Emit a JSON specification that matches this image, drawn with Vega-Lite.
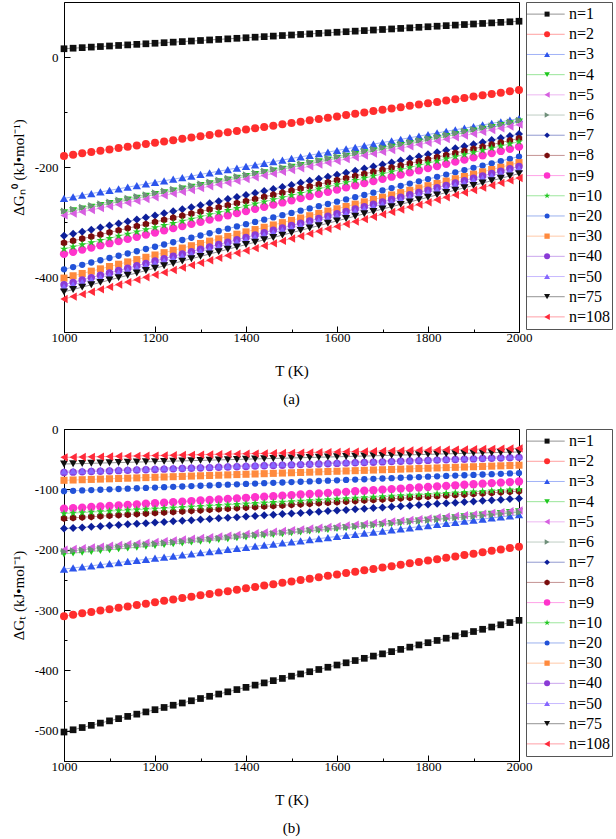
{
"$schema":"https://vega.github.io/schema/vega-lite/v6.json",
"padding":{"left":10,"top":1,"right":2,"bottom":0},
"config":{
 "font":"Liberation Serif, Times New Roman, serif",
 "view":{"stroke":"#000"},
 "axis":{"grid":false,"domainColor":"#000","tickColor":"#000","labelColor":"#000","titleColor":"#000","labelFont":"Liberation Serif, Times New Roman, serif","titleFont":"Liberation Serif, Times New Roman, serif","labelFontSize":13,"titleFontSize":15,"titleFontWeight":"normal","tickSize":-5,"labelFlush":false,"labelOverlap":false},
 "axisX":{"labelPadding":5},
 "axisY":{"labelPadding":12},
 "text":{"font":"Liberation Serif, Times New Roman, serif"},
 "title":{"font":"Liberation Serif, Times New Roman, serif","fontSize":15,"fontWeight":"normal","color":"#000"},
 "range":{
  "category":["#101010","#ff2d2d","#2d55ec","#1ec81e","#d65fe0","#6f8f7a","#0d1f9a","#7a0d0d","#ff33cc","#25c825","#2252d8","#ff8a3d","#8a3ad6","#8566ff","#101010","#ff2a3a"],
  "symbol":["square","circle","triangle-up","triangle-down","triangle-left","triangle-right","diamond","M0,-1L0.866,-0.5L0.866,0.5L0,1L-0.866,0.5L-0.866,-0.5Z","circle","M0,-1L0.2245,-0.309L0.9511,-0.309L0.3633,0.118L0.5878,0.809L0,0.382L-0.5878,0.809L-0.3633,0.118L-0.9511,-0.309L-0.2245,-0.309Z","circle","square","circle","triangle-up","triangle-down","triangle-left"]
 }
},
"datasets":{
"A":[
{"T":1000,"s01":15,"s02":-180,"s03":-257,"s04":-283,"s05":-288,"s06":-280,"s07":-325,"s08":-338,"s09":-358,"s10":-349,"s11":-386,"s12":-402,"s13":-414,"s14":-418,"s15":-427,"s16":-440},
{"T":1020,"s01":16,"s02":-177.6,"s03":-254.1,"s04":-279.7,"s05":-284.7,"s06":-276.7,"s07":-321.3,"s08":-334.2,"s09":-354.1,"s10":-345.1,"s11":-381.9,"s12":-397.8,"s13":-409.7,"s14":-413.7,"s15":-422.7,"s16":-435.6},
{"T":1040,"s01":17,"s02":-175.2,"s03":-251.2,"s04":-276.4,"s05":-281.4,"s06":-273.4,"s07":-317.6,"s08":-330.4,"s09":-350.2,"s10":-341.2,"s11":-377.8,"s12":-393.6,"s13":-405.4,"s14":-409.4,"s15":-418.4,"s16":-431.2},
{"T":1060,"s01":18,"s02":-172.8,"s03":-248.3,"s04":-273.1,"s05":-278.1,"s06":-270.1,"s07":-313.9,"s08":-326.6,"s09":-346.3,"s10":-337.3,"s11":-373.7,"s12":-389.4,"s13":-401.1,"s14":-405.1,"s15":-414.1,"s16":-426.8},
{"T":1080,"s01":19,"s02":-170.4,"s03":-245.4,"s04":-269.8,"s05":-274.8,"s06":-266.8,"s07":-310.2,"s08":-322.8,"s09":-342.4,"s10":-333.4,"s11":-369.6,"s12":-385.2,"s13":-396.8,"s14":-400.8,"s15":-409.8,"s16":-422.4},
{"T":1100,"s01":20,"s02":-168,"s03":-242.5,"s04":-266.5,"s05":-271.5,"s06":-263.5,"s07":-306.5,"s08":-319,"s09":-338.5,"s10":-329.5,"s11":-365.5,"s12":-381,"s13":-392.5,"s14":-396.5,"s15":-405.5,"s16":-418},
{"T":1120,"s01":21,"s02":-165.6,"s03":-239.6,"s04":-263.2,"s05":-268.2,"s06":-260.2,"s07":-302.8,"s08":-315.2,"s09":-334.6,"s10":-325.6,"s11":-361.4,"s12":-376.8,"s13":-388.2,"s14":-392.2,"s15":-401.2,"s16":-413.6},
{"T":1140,"s01":22,"s02":-163.2,"s03":-236.7,"s04":-259.9,"s05":-264.9,"s06":-256.9,"s07":-299.1,"s08":-311.4,"s09":-330.7,"s10":-321.7,"s11":-357.3,"s12":-372.6,"s13":-383.9,"s14":-387.9,"s15":-396.9,"s16":-409.2},
{"T":1160,"s01":23,"s02":-160.8,"s03":-233.8,"s04":-256.6,"s05":-261.6,"s06":-253.6,"s07":-295.4,"s08":-307.6,"s09":-326.8,"s10":-317.8,"s11":-353.2,"s12":-368.4,"s13":-379.6,"s14":-383.6,"s15":-392.6,"s16":-404.8},
{"T":1180,"s01":24,"s02":-158.4,"s03":-230.9,"s04":-253.3,"s05":-258.3,"s06":-250.3,"s07":-291.7,"s08":-303.8,"s09":-322.9,"s10":-313.9,"s11":-349.1,"s12":-364.2,"s13":-375.3,"s14":-379.3,"s15":-388.3,"s16":-400.4},
{"T":1200,"s01":25,"s02":-156,"s03":-228,"s04":-250,"s05":-255,"s06":-247,"s07":-288,"s08":-300,"s09":-319,"s10":-310,"s11":-345,"s12":-360,"s13":-371,"s14":-375,"s15":-384,"s16":-396},
{"T":1220,"s01":26,"s02":-153.6,"s03":-225.1,"s04":-246.7,"s05":-251.7,"s06":-243.7,"s07":-284.3,"s08":-296.2,"s09":-315.1,"s10":-306.1,"s11":-340.9,"s12":-355.8,"s13":-366.7,"s14":-370.7,"s15":-379.7,"s16":-391.6},
{"T":1240,"s01":27,"s02":-151.2,"s03":-222.2,"s04":-243.4,"s05":-248.4,"s06":-240.4,"s07":-280.6,"s08":-292.4,"s09":-311.2,"s10":-302.2,"s11":-336.8,"s12":-351.6,"s13":-362.4,"s14":-366.4,"s15":-375.4,"s16":-387.2},
{"T":1260,"s01":28,"s02":-148.8,"s03":-219.3,"s04":-240.1,"s05":-245.1,"s06":-237.1,"s07":-276.9,"s08":-288.6,"s09":-307.3,"s10":-298.3,"s11":-332.7,"s12":-347.4,"s13":-358.1,"s14":-362.1,"s15":-371.1,"s16":-382.8},
{"T":1280,"s01":29,"s02":-146.4,"s03":-216.4,"s04":-236.8,"s05":-241.8,"s06":-233.8,"s07":-273.2,"s08":-284.8,"s09":-303.4,"s10":-294.4,"s11":-328.6,"s12":-343.2,"s13":-353.8,"s14":-357.8,"s15":-366.8,"s16":-378.4},
{"T":1300,"s01":30,"s02":-144,"s03":-213.5,"s04":-233.5,"s05":-238.5,"s06":-230.5,"s07":-269.5,"s08":-281,"s09":-299.5,"s10":-290.5,"s11":-324.5,"s12":-339,"s13":-349.5,"s14":-353.5,"s15":-362.5,"s16":-374},
{"T":1320,"s01":31,"s02":-141.6,"s03":-210.6,"s04":-230.2,"s05":-235.2,"s06":-227.2,"s07":-265.8,"s08":-277.2,"s09":-295.6,"s10":-286.6,"s11":-320.4,"s12":-334.8,"s13":-345.2,"s14":-349.2,"s15":-358.2,"s16":-369.6},
{"T":1340,"s01":32,"s02":-139.2,"s03":-207.7,"s04":-226.9,"s05":-231.9,"s06":-223.9,"s07":-262.1,"s08":-273.4,"s09":-291.7,"s10":-282.7,"s11":-316.3,"s12":-330.6,"s13":-340.9,"s14":-344.9,"s15":-353.9,"s16":-365.2},
{"T":1360,"s01":33,"s02":-136.8,"s03":-204.8,"s04":-223.6,"s05":-228.6,"s06":-220.6,"s07":-258.4,"s08":-269.6,"s09":-287.8,"s10":-278.8,"s11":-312.2,"s12":-326.4,"s13":-336.6,"s14":-340.6,"s15":-349.6,"s16":-360.8},
{"T":1380,"s01":34,"s02":-134.4,"s03":-201.9,"s04":-220.3,"s05":-225.3,"s06":-217.3,"s07":-254.7,"s08":-265.8,"s09":-283.9,"s10":-274.9,"s11":-308.1,"s12":-322.2,"s13":-332.3,"s14":-336.3,"s15":-345.3,"s16":-356.4},
{"T":1400,"s01":35,"s02":-132,"s03":-199,"s04":-217,"s05":-222,"s06":-214,"s07":-251,"s08":-262,"s09":-280,"s10":-271,"s11":-304,"s12":-318,"s13":-328,"s14":-332,"s15":-341,"s16":-352},
{"T":1420,"s01":36,"s02":-129.6,"s03":-196.1,"s04":-213.7,"s05":-218.7,"s06":-210.7,"s07":-247.3,"s08":-258.2,"s09":-276.1,"s10":-267.1,"s11":-299.9,"s12":-313.8,"s13":-323.7,"s14":-327.7,"s15":-336.7,"s16":-347.6},
{"T":1440,"s01":37,"s02":-127.2,"s03":-193.2,"s04":-210.4,"s05":-215.4,"s06":-207.4,"s07":-243.6,"s08":-254.4,"s09":-272.2,"s10":-263.2,"s11":-295.8,"s12":-309.6,"s13":-319.4,"s14":-323.4,"s15":-332.4,"s16":-343.2},
{"T":1460,"s01":38,"s02":-124.8,"s03":-190.3,"s04":-207.1,"s05":-212.1,"s06":-204.1,"s07":-239.9,"s08":-250.6,"s09":-268.3,"s10":-259.3,"s11":-291.7,"s12":-305.4,"s13":-315.1,"s14":-319.1,"s15":-328.1,"s16":-338.8},
{"T":1480,"s01":39,"s02":-122.4,"s03":-187.4,"s04":-203.8,"s05":-208.8,"s06":-200.8,"s07":-236.2,"s08":-246.8,"s09":-264.4,"s10":-255.4,"s11":-287.6,"s12":-301.2,"s13":-310.8,"s14":-314.8,"s15":-323.8,"s16":-334.4},
{"T":1500,"s01":40,"s02":-120,"s03":-184.5,"s04":-200.5,"s05":-205.5,"s06":-197.5,"s07":-232.5,"s08":-243,"s09":-260.5,"s10":-251.5,"s11":-283.5,"s12":-297,"s13":-306.5,"s14":-310.5,"s15":-319.5,"s16":-330},
{"T":1520,"s01":41,"s02":-117.6,"s03":-181.6,"s04":-197.2,"s05":-202.2,"s06":-194.2,"s07":-228.8,"s08":-239.2,"s09":-256.6,"s10":-247.6,"s11":-279.4,"s12":-292.8,"s13":-302.2,"s14":-306.2,"s15":-315.2,"s16":-325.6},
{"T":1540,"s01":42,"s02":-115.2,"s03":-178.7,"s04":-193.9,"s05":-198.9,"s06":-190.9,"s07":-225.1,"s08":-235.4,"s09":-252.7,"s10":-243.7,"s11":-275.3,"s12":-288.6,"s13":-297.9,"s14":-301.9,"s15":-310.9,"s16":-321.2},
{"T":1560,"s01":43,"s02":-112.8,"s03":-175.8,"s04":-190.6,"s05":-195.6,"s06":-187.6,"s07":-221.4,"s08":-231.6,"s09":-248.8,"s10":-239.8,"s11":-271.2,"s12":-284.4,"s13":-293.6,"s14":-297.6,"s15":-306.6,"s16":-316.8},
{"T":1580,"s01":44,"s02":-110.4,"s03":-172.9,"s04":-187.3,"s05":-192.3,"s06":-184.3,"s07":-217.7,"s08":-227.8,"s09":-244.9,"s10":-235.9,"s11":-267.1,"s12":-280.2,"s13":-289.3,"s14":-293.3,"s15":-302.3,"s16":-312.4},
{"T":1600,"s01":45,"s02":-108,"s03":-170,"s04":-184,"s05":-189,"s06":-181,"s07":-214,"s08":-224,"s09":-241,"s10":-232,"s11":-263,"s12":-276,"s13":-285,"s14":-289,"s15":-298,"s16":-308},
{"T":1620,"s01":46,"s02":-105.6,"s03":-167.1,"s04":-180.7,"s05":-185.7,"s06":-177.7,"s07":-210.3,"s08":-220.2,"s09":-237.1,"s10":-228.1,"s11":-258.9,"s12":-271.8,"s13":-280.7,"s14":-284.7,"s15":-293.7,"s16":-303.6},
{"T":1640,"s01":47,"s02":-103.2,"s03":-164.2,"s04":-177.4,"s05":-182.4,"s06":-174.4,"s07":-206.6,"s08":-216.4,"s09":-233.2,"s10":-224.2,"s11":-254.8,"s12":-267.6,"s13":-276.4,"s14":-280.4,"s15":-289.4,"s16":-299.2},
{"T":1660,"s01":48,"s02":-100.8,"s03":-161.3,"s04":-174.1,"s05":-179.1,"s06":-171.1,"s07":-202.9,"s08":-212.6,"s09":-229.3,"s10":-220.3,"s11":-250.7,"s12":-263.4,"s13":-272.1,"s14":-276.1,"s15":-285.1,"s16":-294.8},
{"T":1680,"s01":49,"s02":-98.4,"s03":-158.4,"s04":-170.8,"s05":-175.8,"s06":-167.8,"s07":-199.2,"s08":-208.8,"s09":-225.4,"s10":-216.4,"s11":-246.6,"s12":-259.2,"s13":-267.8,"s14":-271.8,"s15":-280.8,"s16":-290.4},
{"T":1700,"s01":50,"s02":-96,"s03":-155.5,"s04":-167.5,"s05":-172.5,"s06":-164.5,"s07":-195.5,"s08":-205,"s09":-221.5,"s10":-212.5,"s11":-242.5,"s12":-255,"s13":-263.5,"s14":-267.5,"s15":-276.5,"s16":-286},
{"T":1720,"s01":51,"s02":-93.6,"s03":-152.6,"s04":-164.2,"s05":-169.2,"s06":-161.2,"s07":-191.8,"s08":-201.2,"s09":-217.6,"s10":-208.6,"s11":-238.4,"s12":-250.8,"s13":-259.2,"s14":-263.2,"s15":-272.2,"s16":-281.6},
{"T":1740,"s01":52,"s02":-91.2,"s03":-149.7,"s04":-160.9,"s05":-165.9,"s06":-157.9,"s07":-188.1,"s08":-197.4,"s09":-213.7,"s10":-204.7,"s11":-234.3,"s12":-246.6,"s13":-254.9,"s14":-258.9,"s15":-267.9,"s16":-277.2},
{"T":1760,"s01":53,"s02":-88.8,"s03":-146.8,"s04":-157.6,"s05":-162.6,"s06":-154.6,"s07":-184.4,"s08":-193.6,"s09":-209.8,"s10":-200.8,"s11":-230.2,"s12":-242.4,"s13":-250.6,"s14":-254.6,"s15":-263.6,"s16":-272.8},
{"T":1780,"s01":54,"s02":-86.4,"s03":-143.9,"s04":-154.3,"s05":-159.3,"s06":-151.3,"s07":-180.7,"s08":-189.8,"s09":-205.9,"s10":-196.9,"s11":-226.1,"s12":-238.2,"s13":-246.3,"s14":-250.3,"s15":-259.3,"s16":-268.4},
{"T":1800,"s01":55,"s02":-84,"s03":-141,"s04":-151,"s05":-156,"s06":-148,"s07":-177,"s08":-186,"s09":-202,"s10":-193,"s11":-222,"s12":-234,"s13":-242,"s14":-246,"s15":-255,"s16":-264},
{"T":1820,"s01":56,"s02":-81.6,"s03":-138.1,"s04":-147.7,"s05":-152.7,"s06":-144.7,"s07":-173.3,"s08":-182.2,"s09":-198.1,"s10":-189.1,"s11":-217.9,"s12":-229.8,"s13":-237.7,"s14":-241.7,"s15":-250.7,"s16":-259.6},
{"T":1840,"s01":57,"s02":-79.2,"s03":-135.2,"s04":-144.4,"s05":-149.4,"s06":-141.4,"s07":-169.6,"s08":-178.4,"s09":-194.2,"s10":-185.2,"s11":-213.8,"s12":-225.6,"s13":-233.4,"s14":-237.4,"s15":-246.4,"s16":-255.2},
{"T":1860,"s01":58,"s02":-76.8,"s03":-132.3,"s04":-141.1,"s05":-146.1,"s06":-138.1,"s07":-165.9,"s08":-174.6,"s09":-190.3,"s10":-181.3,"s11":-209.7,"s12":-221.4,"s13":-229.1,"s14":-233.1,"s15":-242.1,"s16":-250.8},
{"T":1880,"s01":59,"s02":-74.4,"s03":-129.4,"s04":-137.8,"s05":-142.8,"s06":-134.8,"s07":-162.2,"s08":-170.8,"s09":-186.4,"s10":-177.4,"s11":-205.6,"s12":-217.2,"s13":-224.8,"s14":-228.8,"s15":-237.8,"s16":-246.4},
{"T":1900,"s01":60,"s02":-72,"s03":-126.5,"s04":-134.5,"s05":-139.5,"s06":-131.5,"s07":-158.5,"s08":-167,"s09":-182.5,"s10":-173.5,"s11":-201.5,"s12":-213,"s13":-220.5,"s14":-224.5,"s15":-233.5,"s16":-242},
{"T":1920,"s01":61,"s02":-69.6,"s03":-123.6,"s04":-131.2,"s05":-136.2,"s06":-128.2,"s07":-154.8,"s08":-163.2,"s09":-178.6,"s10":-169.6,"s11":-197.4,"s12":-208.8,"s13":-216.2,"s14":-220.2,"s15":-229.2,"s16":-237.6},
{"T":1940,"s01":62,"s02":-67.2,"s03":-120.7,"s04":-127.9,"s05":-132.9,"s06":-124.9,"s07":-151.1,"s08":-159.4,"s09":-174.7,"s10":-165.7,"s11":-193.3,"s12":-204.6,"s13":-211.9,"s14":-215.9,"s15":-224.9,"s16":-233.2},
{"T":1960,"s01":63,"s02":-64.8,"s03":-117.8,"s04":-124.6,"s05":-129.6,"s06":-121.6,"s07":-147.4,"s08":-155.6,"s09":-170.8,"s10":-161.8,"s11":-189.2,"s12":-200.4,"s13":-207.6,"s14":-211.6,"s15":-220.6,"s16":-228.8},
{"T":1980,"s01":64,"s02":-62.4,"s03":-114.9,"s04":-121.3,"s05":-126.3,"s06":-118.3,"s07":-143.7,"s08":-151.8,"s09":-166.9,"s10":-157.9,"s11":-185.1,"s12":-196.2,"s13":-203.3,"s14":-207.3,"s15":-216.3,"s16":-224.4},
{"T":2000,"s01":65,"s02":-60,"s03":-112,"s04":-118,"s05":-123,"s06":-115,"s07":-140,"s08":-148,"s09":-163,"s10":-154,"s11":-181,"s12":-192,"s13":-199,"s14":-203,"s15":-212,"s16":-220}
],
"B":[
{"T":1000,"s01":-502,"s02":-310,"s03":-232,"s04":-207,"s05":-200,"s06":-203,"s07":-165,"s08":-148,"s09":-132,"s10":-140,"s11":-103,"s12":-85,"s13":-72,"s14":-70,"s15":-58,"s16":-47},
{"T":1020,"s01":-498.3,"s02":-307.7,"s03":-230.2,"s04":-205.6,"s05":-198.7,"s06":-201.7,"s07":-164,"s08":-147.1,"s09":-131.1,"s10":-139.2,"s11":-102.4,"s12":-84.5,"s13":-71.5,"s14":-69.5,"s15":-57.6,"s16":-46.7},
{"T":1040,"s01":-494.6,"s02":-305.4,"s03":-228.4,"s04":-204.2,"s05":-197.4,"s06":-200.4,"s07":-163,"s08":-146.2,"s09":-130.2,"s10":-138.4,"s11":-101.8,"s12":-84,"s13":-71,"s14":-69,"s15":-57.2,"s16":-46.4},
{"T":1060,"s01":-490.9,"s02":-303.1,"s03":-226.6,"s04":-202.8,"s05":-196.1,"s06":-199.1,"s07":-162,"s08":-145.3,"s09":-129.3,"s10":-137.6,"s11":-101.2,"s12":-83.5,"s13":-70.5,"s14":-68.5,"s15":-56.8,"s16":-46.1},
{"T":1080,"s01":-487.2,"s02":-300.8,"s03":-224.8,"s04":-201.4,"s05":-194.8,"s06":-197.8,"s07":-161,"s08":-144.4,"s09":-128.4,"s10":-136.8,"s11":-100.6,"s12":-83,"s13":-70,"s14":-68,"s15":-56.4,"s16":-45.8},
{"T":1100,"s01":-483.5,"s02":-298.5,"s03":-223,"s04":-200,"s05":-193.5,"s06":-196.5,"s07":-160,"s08":-143.5,"s09":-127.5,"s10":-136,"s11":-100,"s12":-82.5,"s13":-69.5,"s14":-67.5,"s15":-56,"s16":-45.5},
{"T":1120,"s01":-479.8,"s02":-296.2,"s03":-221.2,"s04":-198.6,"s05":-192.2,"s06":-195.2,"s07":-159,"s08":-142.6,"s09":-126.6,"s10":-135.2,"s11":-99.4,"s12":-82,"s13":-69,"s14":-67,"s15":-55.6,"s16":-45.2},
{"T":1140,"s01":-476.1,"s02":-293.9,"s03":-219.4,"s04":-197.2,"s05":-190.9,"s06":-193.9,"s07":-158,"s08":-141.7,"s09":-125.7,"s10":-134.4,"s11":-98.8,"s12":-81.5,"s13":-68.5,"s14":-66.5,"s15":-55.2,"s16":-44.9},
{"T":1160,"s01":-472.4,"s02":-291.6,"s03":-217.6,"s04":-195.8,"s05":-189.6,"s06":-192.6,"s07":-157,"s08":-140.8,"s09":-124.8,"s10":-133.6,"s11":-98.2,"s12":-81,"s13":-68,"s14":-66,"s15":-54.8,"s16":-44.6},
{"T":1180,"s01":-468.7,"s02":-289.3,"s03":-215.8,"s04":-194.4,"s05":-188.3,"s06":-191.3,"s07":-156,"s08":-139.9,"s09":-123.9,"s10":-132.8,"s11":-97.6,"s12":-80.5,"s13":-67.5,"s14":-65.5,"s15":-54.4,"s16":-44.3},
{"T":1200,"s01":-465,"s02":-287,"s03":-214,"s04":-193,"s05":-187,"s06":-190,"s07":-155,"s08":-139,"s09":-123,"s10":-132,"s11":-97,"s12":-80,"s13":-67,"s14":-65,"s15":-54,"s16":-44},
{"T":1220,"s01":-461.3,"s02":-284.7,"s03":-212.2,"s04":-191.6,"s05":-185.7,"s06":-188.7,"s07":-154,"s08":-138.1,"s09":-122.1,"s10":-131.2,"s11":-96.4,"s12":-79.5,"s13":-66.5,"s14":-64.5,"s15":-53.6,"s16":-43.7},
{"T":1240,"s01":-457.6,"s02":-282.4,"s03":-210.4,"s04":-190.2,"s05":-184.4,"s06":-187.4,"s07":-153,"s08":-137.2,"s09":-121.2,"s10":-130.4,"s11":-95.8,"s12":-79,"s13":-66,"s14":-64,"s15":-53.2,"s16":-43.4},
{"T":1260,"s01":-453.9,"s02":-280.1,"s03":-208.6,"s04":-188.8,"s05":-183.1,"s06":-186.1,"s07":-152,"s08":-136.3,"s09":-120.3,"s10":-129.6,"s11":-95.2,"s12":-78.5,"s13":-65.5,"s14":-63.5,"s15":-52.8,"s16":-43.1},
{"T":1280,"s01":-450.2,"s02":-277.8,"s03":-206.8,"s04":-187.4,"s05":-181.8,"s06":-184.8,"s07":-151,"s08":-135.4,"s09":-119.4,"s10":-128.8,"s11":-94.6,"s12":-78,"s13":-65,"s14":-63,"s15":-52.4,"s16":-42.8},
{"T":1300,"s01":-446.5,"s02":-275.5,"s03":-205,"s04":-186,"s05":-180.5,"s06":-183.5,"s07":-150,"s08":-134.5,"s09":-118.5,"s10":-128,"s11":-94,"s12":-77.5,"s13":-64.5,"s14":-62.5,"s15":-52,"s16":-42.5},
{"T":1320,"s01":-442.8,"s02":-273.2,"s03":-203.2,"s04":-184.6,"s05":-179.2,"s06":-182.2,"s07":-149,"s08":-133.6,"s09":-117.6,"s10":-127.2,"s11":-93.4,"s12":-77,"s13":-64,"s14":-62,"s15":-51.6,"s16":-42.2},
{"T":1340,"s01":-439.1,"s02":-270.9,"s03":-201.4,"s04":-183.2,"s05":-177.9,"s06":-180.9,"s07":-148,"s08":-132.7,"s09":-116.7,"s10":-126.4,"s11":-92.8,"s12":-76.5,"s13":-63.5,"s14":-61.5,"s15":-51.2,"s16":-41.9},
{"T":1360,"s01":-435.4,"s02":-268.6,"s03":-199.6,"s04":-181.8,"s05":-176.6,"s06":-179.6,"s07":-147,"s08":-131.8,"s09":-115.8,"s10":-125.6,"s11":-92.2,"s12":-76,"s13":-63,"s14":-61,"s15":-50.8,"s16":-41.6},
{"T":1380,"s01":-431.7,"s02":-266.3,"s03":-197.8,"s04":-180.4,"s05":-175.3,"s06":-178.3,"s07":-146,"s08":-130.9,"s09":-114.9,"s10":-124.8,"s11":-91.6,"s12":-75.5,"s13":-62.5,"s14":-60.5,"s15":-50.4,"s16":-41.3},
{"T":1400,"s01":-428,"s02":-264,"s03":-196,"s04":-179,"s05":-174,"s06":-177,"s07":-145,"s08":-130,"s09":-114,"s10":-124,"s11":-91,"s12":-75,"s13":-62,"s14":-60,"s15":-50,"s16":-41},
{"T":1420,"s01":-424.3,"s02":-261.7,"s03":-194.2,"s04":-177.6,"s05":-172.7,"s06":-175.7,"s07":-144,"s08":-129.1,"s09":-113.1,"s10":-123.2,"s11":-90.4,"s12":-74.5,"s13":-61.5,"s14":-59.5,"s15":-49.6,"s16":-40.7},
{"T":1440,"s01":-420.6,"s02":-259.4,"s03":-192.4,"s04":-176.2,"s05":-171.4,"s06":-174.4,"s07":-143,"s08":-128.2,"s09":-112.2,"s10":-122.4,"s11":-89.8,"s12":-74,"s13":-61,"s14":-59,"s15":-49.2,"s16":-40.4},
{"T":1460,"s01":-416.9,"s02":-257.1,"s03":-190.6,"s04":-174.8,"s05":-170.1,"s06":-173.1,"s07":-142,"s08":-127.3,"s09":-111.3,"s10":-121.6,"s11":-89.2,"s12":-73.5,"s13":-60.5,"s14":-58.5,"s15":-48.8,"s16":-40.1},
{"T":1480,"s01":-413.2,"s02":-254.8,"s03":-188.8,"s04":-173.4,"s05":-168.8,"s06":-171.8,"s07":-141,"s08":-126.4,"s09":-110.4,"s10":-120.8,"s11":-88.6,"s12":-73,"s13":-60,"s14":-58,"s15":-48.4,"s16":-39.8},
{"T":1500,"s01":-409.5,"s02":-252.5,"s03":-187,"s04":-172,"s05":-167.5,"s06":-170.5,"s07":-140,"s08":-125.5,"s09":-109.5,"s10":-120,"s11":-88,"s12":-72.5,"s13":-59.5,"s14":-57.5,"s15":-48,"s16":-39.5},
{"T":1520,"s01":-405.8,"s02":-250.2,"s03":-185.2,"s04":-170.6,"s05":-166.2,"s06":-169.2,"s07":-139,"s08":-124.6,"s09":-108.6,"s10":-119.2,"s11":-87.4,"s12":-72,"s13":-59,"s14":-57,"s15":-47.6,"s16":-39.2},
{"T":1540,"s01":-402.1,"s02":-247.9,"s03":-183.4,"s04":-169.2,"s05":-164.9,"s06":-167.9,"s07":-138,"s08":-123.7,"s09":-107.7,"s10":-118.4,"s11":-86.8,"s12":-71.5,"s13":-58.5,"s14":-56.5,"s15":-47.2,"s16":-38.9},
{"T":1560,"s01":-398.4,"s02":-245.6,"s03":-181.6,"s04":-167.8,"s05":-163.6,"s06":-166.6,"s07":-137,"s08":-122.8,"s09":-106.8,"s10":-117.6,"s11":-86.2,"s12":-71,"s13":-58,"s14":-56,"s15":-46.8,"s16":-38.6},
{"T":1580,"s01":-394.7,"s02":-243.3,"s03":-179.8,"s04":-166.4,"s05":-162.3,"s06":-165.3,"s07":-136,"s08":-121.9,"s09":-105.9,"s10":-116.8,"s11":-85.6,"s12":-70.5,"s13":-57.5,"s14":-55.5,"s15":-46.4,"s16":-38.3},
{"T":1600,"s01":-391,"s02":-241,"s03":-178,"s04":-165,"s05":-161,"s06":-164,"s07":-135,"s08":-121,"s09":-105,"s10":-116,"s11":-85,"s12":-70,"s13":-57,"s14":-55,"s15":-46,"s16":-38},
{"T":1620,"s01":-387.3,"s02":-238.7,"s03":-176.2,"s04":-163.6,"s05":-159.7,"s06":-162.7,"s07":-134,"s08":-120.1,"s09":-104.1,"s10":-115.2,"s11":-84.4,"s12":-69.5,"s13":-56.5,"s14":-54.5,"s15":-45.6,"s16":-37.7},
{"T":1640,"s01":-383.6,"s02":-236.4,"s03":-174.4,"s04":-162.2,"s05":-158.4,"s06":-161.4,"s07":-133,"s08":-119.2,"s09":-103.2,"s10":-114.4,"s11":-83.8,"s12":-69,"s13":-56,"s14":-54,"s15":-45.2,"s16":-37.4},
{"T":1660,"s01":-379.9,"s02":-234.1,"s03":-172.6,"s04":-160.8,"s05":-157.1,"s06":-160.1,"s07":-132,"s08":-118.3,"s09":-102.3,"s10":-113.6,"s11":-83.2,"s12":-68.5,"s13":-55.5,"s14":-53.5,"s15":-44.8,"s16":-37.1},
{"T":1680,"s01":-376.2,"s02":-231.8,"s03":-170.8,"s04":-159.4,"s05":-155.8,"s06":-158.8,"s07":-131,"s08":-117.4,"s09":-101.4,"s10":-112.8,"s11":-82.6,"s12":-68,"s13":-55,"s14":-53,"s15":-44.4,"s16":-36.8},
{"T":1700,"s01":-372.5,"s02":-229.5,"s03":-169,"s04":-158,"s05":-154.5,"s06":-157.5,"s07":-130,"s08":-116.5,"s09":-100.5,"s10":-112,"s11":-82,"s12":-67.5,"s13":-54.5,"s14":-52.5,"s15":-44,"s16":-36.5},
{"T":1720,"s01":-368.8,"s02":-227.2,"s03":-167.2,"s04":-156.6,"s05":-153.2,"s06":-156.2,"s07":-129,"s08":-115.6,"s09":-99.6,"s10":-111.2,"s11":-81.4,"s12":-67,"s13":-54,"s14":-52,"s15":-43.6,"s16":-36.2},
{"T":1740,"s01":-365.1,"s02":-224.9,"s03":-165.4,"s04":-155.2,"s05":-151.9,"s06":-154.9,"s07":-128,"s08":-114.7,"s09":-98.7,"s10":-110.4,"s11":-80.8,"s12":-66.5,"s13":-53.5,"s14":-51.5,"s15":-43.2,"s16":-35.9},
{"T":1760,"s01":-361.4,"s02":-222.6,"s03":-163.6,"s04":-153.8,"s05":-150.6,"s06":-153.6,"s07":-127,"s08":-113.8,"s09":-97.8,"s10":-109.6,"s11":-80.2,"s12":-66,"s13":-53,"s14":-51,"s15":-42.8,"s16":-35.6},
{"T":1780,"s01":-357.7,"s02":-220.3,"s03":-161.8,"s04":-152.4,"s05":-149.3,"s06":-152.3,"s07":-126,"s08":-112.9,"s09":-96.9,"s10":-108.8,"s11":-79.6,"s12":-65.5,"s13":-52.5,"s14":-50.5,"s15":-42.4,"s16":-35.3},
{"T":1800,"s01":-354,"s02":-218,"s03":-160,"s04":-151,"s05":-148,"s06":-151,"s07":-125,"s08":-112,"s09":-96,"s10":-108,"s11":-79,"s12":-65,"s13":-52,"s14":-50,"s15":-42,"s16":-35},
{"T":1820,"s01":-350.3,"s02":-215.7,"s03":-158.2,"s04":-149.6,"s05":-146.7,"s06":-149.7,"s07":-124,"s08":-111.1,"s09":-95.1,"s10":-107.2,"s11":-78.4,"s12":-64.5,"s13":-51.5,"s14":-49.5,"s15":-41.6,"s16":-34.7},
{"T":1840,"s01":-346.6,"s02":-213.4,"s03":-156.4,"s04":-148.2,"s05":-145.4,"s06":-148.4,"s07":-123,"s08":-110.2,"s09":-94.2,"s10":-106.4,"s11":-77.8,"s12":-64,"s13":-51,"s14":-49,"s15":-41.2,"s16":-34.4},
{"T":1860,"s01":-342.9,"s02":-211.1,"s03":-154.6,"s04":-146.8,"s05":-144.1,"s06":-147.1,"s07":-122,"s08":-109.3,"s09":-93.3,"s10":-105.6,"s11":-77.2,"s12":-63.5,"s13":-50.5,"s14":-48.5,"s15":-40.8,"s16":-34.1},
{"T":1880,"s01":-339.2,"s02":-208.8,"s03":-152.8,"s04":-145.4,"s05":-142.8,"s06":-145.8,"s07":-121,"s08":-108.4,"s09":-92.4,"s10":-104.8,"s11":-76.6,"s12":-63,"s13":-50,"s14":-48,"s15":-40.4,"s16":-33.8},
{"T":1900,"s01":-335.5,"s02":-206.5,"s03":-151,"s04":-144,"s05":-141.5,"s06":-144.5,"s07":-120,"s08":-107.5,"s09":-91.5,"s10":-104,"s11":-76,"s12":-62.5,"s13":-49.5,"s14":-47.5,"s15":-40,"s16":-33.5},
{"T":1920,"s01":-331.8,"s02":-204.2,"s03":-149.2,"s04":-142.6,"s05":-140.2,"s06":-143.2,"s07":-119,"s08":-106.6,"s09":-90.6,"s10":-103.2,"s11":-75.4,"s12":-62,"s13":-49,"s14":-47,"s15":-39.6,"s16":-33.2},
{"T":1940,"s01":-328.1,"s02":-201.9,"s03":-147.4,"s04":-141.2,"s05":-138.9,"s06":-141.9,"s07":-118,"s08":-105.7,"s09":-89.7,"s10":-102.4,"s11":-74.8,"s12":-61.5,"s13":-48.5,"s14":-46.5,"s15":-39.2,"s16":-32.9},
{"T":1960,"s01":-324.4,"s02":-199.6,"s03":-145.6,"s04":-139.8,"s05":-137.6,"s06":-140.6,"s07":-117,"s08":-104.8,"s09":-88.8,"s10":-101.6,"s11":-74.2,"s12":-61,"s13":-48,"s14":-46,"s15":-38.8,"s16":-32.6},
{"T":1980,"s01":-320.7,"s02":-197.3,"s03":-143.8,"s04":-138.4,"s05":-136.3,"s06":-139.3,"s07":-116,"s08":-103.9,"s09":-87.9,"s10":-100.8,"s11":-73.6,"s12":-60.5,"s13":-47.5,"s14":-45.5,"s15":-38.4,"s16":-32.3},
{"T":2000,"s01":-317,"s02":-195,"s03":-142,"s04":-137,"s05":-135,"s06":-138,"s07":-115,"s08":-103,"s09":-87,"s10":-100,"s11":-73,"s12":-60,"s13":-47,"s14":-45,"s15":-38,"s16":-32}
],
"leg":[
{"k":"s01","label":"n=1"},{"k":"s02","label":"n=2"},{"k":"s03","label":"n=3"},{"k":"s04","label":"n=4"},{"k":"s05","label":"n=5"},{"k":"s06","label":"n=6"},{"k":"s07","label":"n=7"},{"k":"s08","label":"n=8"},{"k":"s09","label":"n=9"},{"k":"s10","label":"n=10"},{"k":"s11","label":"n=20"},{"k":"s12","label":"n=30"},{"k":"s13","label":"n=40"},{"k":"s14","label":"n=50"},{"k":"s15","label":"n=75"},{"k":"s16","label":"n=108"}
]
},
"vconcat":[
{"hconcat":[
 {"width":455,"height":330,
  "title":{"text":"(a)","orient":"bottom","offset":14},
  "data":{"name":"A"},
  "transform":[{"fold":["s01","s02","s03","s04","s05","s06","s07","s08","s09","s10","s11","s12","s13","s14","s15","s16"],"as":["k","G"]}],
  "encoding":{
   "x":{"field":"T","type":"quantitative","scale":{"domain":[1000,2000]},"axis":{"title":"T (K)","values":[1000,1100,1200,1300,1400,1500,1600,1700,1800,1900,2000],"labelExpr":"datum.value % 200 == 0 ? '' + datum.value : ''","tickSize":{"condition":{"test":"datum.value % 200 == 0","value":-6},"value":-3},"titlePadding":16}},
   "y":{"field":"G","type":"quantitative","scale":{"domain":[-500,100]},"axis":{"title":"ΔGₙ⁰ (kJ•mol⁻¹)","values":[-500,-400,-300,-200,-100,0],"labelExpr":"datum.value % 200 == 0 ? '' + datum.value : ''","tickSize":{"condition":{"test":"datum.value % 200 == 0","value":-6},"value":-3},"titleX":-38}},
   "color":{"field":"k","type":"nominal","legend":null}
  },
  "layer":[
   {"mark":{"type":"line","strokeWidth":1,"opacity":0.45}},
   {"mark":{"type":"point","filled":true,"opacity":1},"encoding":{"shape":{"field":"k","type":"nominal","legend":null},"size":{"field":"k","type":"nominal","legend":null,"scale":{"type":"ordinal","range":[45,64,70,64,70,50,64,55,70,70,40,50,55,60,64,70]}}}}
  ]
 },
 {"width":86,"height":327,
  "data":{"name":"leg"},
  "view":{"stroke":"#555"},
  "encoding":{
   "y":{"field":"k","type":"ordinal","scale":{"type":"point","padding":0.6},"axis":null},
   "color":{"field":"k","type":"nominal","legend":null}
  },
  "layer":[
   {"mark":{"type":"rule","strokeWidth":1,"opacity":0.45},"encoding":{"x":{"datum":0.01,"type":"quantitative","scale":{"domain":[0,1]},"axis":null},"x2":{"datum":0.45}}},
   {"mark":{"type":"point","filled":true,"opacity":1},"encoding":{"x":{"datum":0.245,"type":"quantitative","scale":{"domain":[0,1]},"axis":null},"shape":{"field":"k","type":"nominal","legend":null},"size":{"field":"k","type":"nominal","legend":null,"scale":{"type":"ordinal","range":[25,36,36,32,36,30,32,36,42,40,25,28,36,36,36,40]}}}},
   {"mark":{"type":"text","align":"left","baseline":"middle","fontSize":16,"font":"Liberation Serif, Times New Roman, serif"},"encoding":{"x":{"datum":0.5,"type":"quantitative","scale":{"domain":[0,1]},"axis":null},"text":{"field":"label"},"color":{"value":"#000"}}}
  ]
 }
],"spacing":7,"bounds":"flush","resolve":{"scale":{"size":"independent"}}},
{"hconcat":[
 {"width":455,"height":332,
  "title":{"text":"(b)","orient":"bottom","offset":14},
  "data":{"name":"B"},
  "transform":[{"fold":["s01","s02","s03","s04","s05","s06","s07","s08","s09","s10","s11","s12","s13","s14","s15","s16"],"as":["k","G"]}],
  "encoding":{
   "x":{"field":"T","type":"quantitative","scale":{"domain":[1000,2000]},"axis":{"title":"T (K)","values":[1000,1100,1200,1300,1400,1500,1600,1700,1800,1900,2000],"labelExpr":"datum.value % 200 == 0 ? '' + datum.value : ''","tickSize":{"condition":{"test":"datum.value % 200 == 0","value":-6},"value":-3},"titlePadding":16}},
   "y":{"field":"G","type":"quantitative","scale":{"domain":[-550,0]},"axis":{"title":"ΔGₜ (kJ•mol⁻¹)","values":[-550,-500,-450,-400,-350,-300,-250,-200,-150,-100,-50,0],"labelExpr":"datum.value % 100 == 0 ? '' + datum.value : ''","tickSize":{"condition":{"test":"datum.value % 100 == 0","value":-6},"value":-3},"titleX":-38}},
   "color":{"field":"k","type":"nominal","legend":null}
  },
  "layer":[
   {"mark":{"type":"line","strokeWidth":1,"opacity":0.45}},
   {"mark":{"type":"point","filled":true,"opacity":1},"encoding":{"shape":{"field":"k","type":"nominal","legend":null},"size":{"field":"k","type":"nominal","legend":null,"scale":{"type":"ordinal","range":[45,64,70,64,70,50,64,55,70,70,40,50,55,60,64,70]}}}}
  ]
 },
 {"width":86,"height":327,
  "data":{"name":"leg"},
  "view":{"stroke":"#555"},
  "encoding":{
   "y":{"field":"k","type":"ordinal","scale":{"type":"point","padding":0.6},"axis":null},
   "color":{"field":"k","type":"nominal","legend":null}
  },
  "layer":[
   {"mark":{"type":"rule","strokeWidth":1,"opacity":0.45},"encoding":{"x":{"datum":0.01,"type":"quantitative","scale":{"domain":[0,1]},"axis":null},"x2":{"datum":0.45}}},
   {"mark":{"type":"point","filled":true,"opacity":1},"encoding":{"x":{"datum":0.245,"type":"quantitative","scale":{"domain":[0,1]},"axis":null},"shape":{"field":"k","type":"nominal","legend":null},"size":{"field":"k","type":"nominal","legend":null,"scale":{"type":"ordinal","range":[25,36,36,32,36,30,32,36,42,40,25,28,36,36,36,40]}}}},
   {"mark":{"type":"text","align":"left","baseline":"middle","fontSize":16,"font":"Liberation Serif, Times New Roman, serif"},"encoding":{"x":{"datum":0.5,"type":"quantitative","scale":{"domain":[0,1]},"axis":null},"text":{"field":"label"},"color":{"value":"#000"}}}
  ]
 }
],"spacing":7,"bounds":"flush","resolve":{"scale":{"size":"independent"}}}
],
"spacing":14
}
